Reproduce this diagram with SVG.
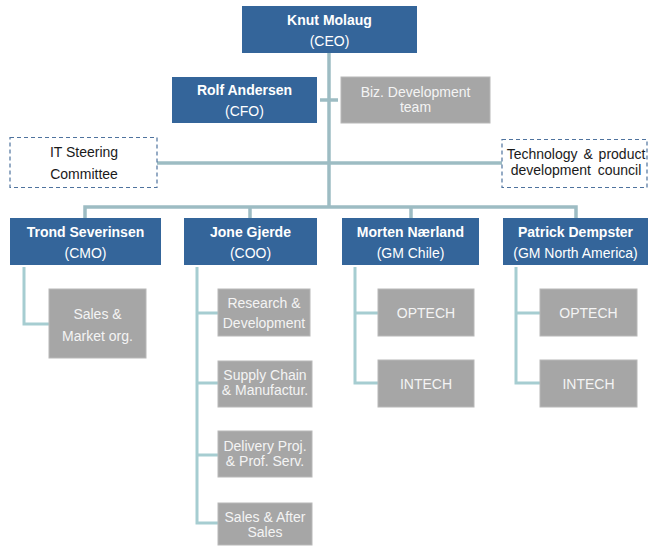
<svg xmlns="http://www.w3.org/2000/svg" width="648" height="546" viewBox="0 0 648 546">
<style>
.blue{fill:#34659a}
.grey{fill:#a6a6a6;stroke:#b8b8b8;stroke-width:1}
.dash{fill:#ffffff;stroke:#4f739e;stroke-width:1.2;stroke-dasharray:4 3}
.t{font-family:"Liberation Sans",Arial,sans-serif;font-size:14px;text-anchor:middle}
.b{font-weight:bold;fill:#ffffff}
.w{fill:#ffffff}
.g{fill:#f4f4f4}
.k{fill:#1a1a1a}
.c{fill:none;stroke:#9dbcc3;stroke-width:3.5}
.cc{fill:none;stroke:#a6cdd1;stroke-width:3}
</style>
<rect width="648" height="546" fill="#ffffff"/>
<g id="connectors">
<path class="c" d="M329 53V207"/>
<path class="c" d="M320 100H338"/>
<path class="c" d="M157 163H502"/>
<path class="c" d="M85 218V207H576V218"/>
<path class="c" d="M250 207V218M411 207V218"/>
<path class="cc" d="M24 267V324H49"/>
<path class="cc" d="M197 267V523H218M197 313H218M197 383H218M197 455H218"/>
<path class="cc" d="M355 267V383H378M355 313H378"/>
<path class="cc" d="M516 267V383H540M516 313H540"/>
</g>
<g id="ceo"><rect class="blue" x="242" y="6" width="175" height="47"/><text class="t b" x="329.5" y="25">Knut Molaug</text><text class="t w" x="329.5" y="46">(CEO)</text></g>
<g id="cfo"><rect class="blue" x="172" y="77" width="145" height="46"/><text class="t b" x="244.5" y="95">Rolf Andersen</text><text class="t w" x="244.5" y="116">(CFO)</text></g>
<g id="bizdev"><rect class="grey" x="341" y="77" width="149" height="46"/><text class="t g" x="415.5" y="97">Biz. Development</text><text class="t g" x="415.5" y="112">team</text></g>
<g id="itsteering"><rect class="dash" x="10" y="137.5" width="147" height="50"/><text class="t k" x="84" y="157">IT Steering</text><text class="t k" x="84" y="179">Committee</text></g>
<g id="techcouncil"><rect class="dash" x="502" y="139.5" width="145" height="48"/><text class="t k" x="576" y="159" style="word-spacing:2px">Technology &amp; product</text><text class="t k" x="576" y="175" style="word-spacing:3px">development council</text></g>
<g id="cmo"><rect class="blue" x="10" y="218" width="151" height="47"/><text class="t b" x="85.5" y="237">Trond Severinsen</text><text class="t w" x="85.5" y="258">(CMO)</text></g>
<g id="coo"><rect class="blue" x="184" y="218" width="133" height="47"/><text class="t b" x="250.5" y="237">Jone Gjerde</text><text class="t w" x="250.5" y="258">(COO)</text></g>
<g id="gmchile"><rect class="blue" x="342" y="218" width="137" height="47"/><text class="t b" x="410.5" y="237">Morten Nærland</text><text class="t w" x="410.5" y="258">(GM Chile)</text></g>
<g id="gmna"><rect class="blue" x="503" y="218" width="145" height="47"/><text class="t b" x="575.5" y="237">Patrick Dempster</text><text class="t w" x="575.5" y="258">(GM North  America)</text></g>
<g id="salesmarket"><rect class="grey" x="49" y="289" width="97" height="69"/><text class="t g" x="97.5" y="319">Sales &amp;</text><text class="t g" x="97.5" y="341">Market  org.</text></g>
<g id="rnd"><rect class="grey" x="218" y="289" width="92" height="47"/><text class="t g" x="264" y="308">Research &amp;</text><text class="t g" x="264" y="328">Development</text></g>
<g id="supply"><rect class="grey" x="218" y="361" width="94" height="46"/><text class="t g" x="265" y="380">Supply Chain</text><text class="t g" x="265" y="395">&amp; Manufactur.</text></g>
<g id="delivery"><rect class="grey" x="218" y="431" width="94" height="46"/><text class="t g" x="265" y="451">Delivery Proj.</text><text class="t g" x="265" y="466">&amp; Prof.  Serv.</text></g>
<g id="salesafter"><rect class="grey" x="218" y="503" width="94" height="42"/><text class="t g" x="265" y="522">Sales &amp;  After</text><text class="t g" x="265" y="537">Sales</text></g>
<g id="optech1"><rect class="grey" x="378" y="289" width="96" height="47"/><text class="t g" x="426" y="318">OPTECH</text></g>
<g id="intech1"><rect class="grey" x="378" y="360" width="96" height="47"/><text class="t g" x="426" y="389">INTECH</text></g>
<g id="optech2"><rect class="grey" x="540" y="289" width="97" height="47"/><text class="t g" x="588.5" y="318">OPTECH</text></g>
<g id="intech2"><rect class="grey" x="540" y="360" width="97" height="47"/><text class="t g" x="588.5" y="389">INTECH</text></g>
</svg>
